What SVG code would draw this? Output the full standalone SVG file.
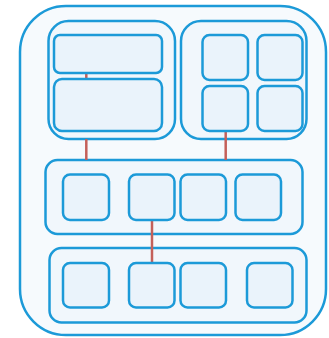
<svg xmlns="http://www.w3.org/2000/svg" width="329" height="338" viewBox="0 0 329 338">
<style>
.outer{fill:#f6fafd;stroke:#1c9ad8;stroke-width:2.5}
.grp{fill:#f1f7fc;stroke:#1c9ad8;stroke-width:2.5}
.box{fill:#eaf3fb;stroke:#1c9ad8;stroke-width:2.5}
.con{stroke:#c4605a;stroke-width:2.5;fill:none}
</style>
<rect width="329" height="338" fill="#ffffff"/>
<g id="outer"><rect class="outer" x="20" y="6" width="306" height="329" rx="46"/></g>
<g id="groupTL">
<rect class="grp" x="48.5" y="21" width="126.5" height="118" rx="20"/>
</g>
<g id="groupTR">
<rect class="grp" x="181" y="21" width="125.5" height="118" rx="20"/>
</g>
<g id="groupMid">
<rect class="grp" x="45.5" y="160" width="257" height="74" rx="12"/>
</g>
<g id="groupBot">
<rect class="grp" x="49.5" y="248" width="257" height="74.5" rx="12"/>
</g>
<g id="connectors">
<line class="con" x1="86.3" y1="73" x2="86.3" y2="79"/>
<line class="con" x1="86.3" y1="139" x2="86.3" y2="160"/>
<line class="con" x1="225.7" y1="131" x2="225.7" y2="160"/>
<line class="con" x1="152" y1="220" x2="152" y2="263"/>
</g>
<g id="tl1"><rect class="box" x="54" y="35" width="108" height="38" rx="6"/></g>
<g id="tl2"><rect class="box" x="54" y="79" width="108" height="52" rx="8"/></g>
<g id="tr1"><rect class="box" x="202.5" y="35" width="45.5" height="45" rx="7"/></g>
<g id="tr2"><rect class="box" x="257.5" y="35" width="45" height="45" rx="7"/></g>
<g id="tr3"><rect class="box" x="202.5" y="86" width="45.5" height="45" rx="7"/></g>
<g id="tr4"><rect class="box" x="257.5" y="86" width="45" height="45" rx="7"/></g>
<g id="m1"><rect class="box" x="63" y="174.5" width="46" height="45.5" rx="7"/></g>
<g id="m2"><rect class="box" x="129" y="174.5" width="45.5" height="45.5" rx="7"/></g>
<g id="m3"><rect class="box" x="180.5" y="174.5" width="45.5" height="45.5" rx="7"/></g>
<g id="m4"><rect class="box" x="235.5" y="174.5" width="45.5" height="45.5" rx="7"/></g>
<g id="b1"><rect class="box" x="63" y="263" width="46" height="44.5" rx="7"/></g>
<g id="b2"><rect class="box" x="129" y="263" width="45.5" height="44.5" rx="7"/></g>
<g id="b3"><rect class="box" x="180.5" y="263" width="45.5" height="44.5" rx="7"/></g>
<g id="b4"><rect class="box" x="247" y="263" width="45.5" height="44.5" rx="7"/></g>
</svg>
